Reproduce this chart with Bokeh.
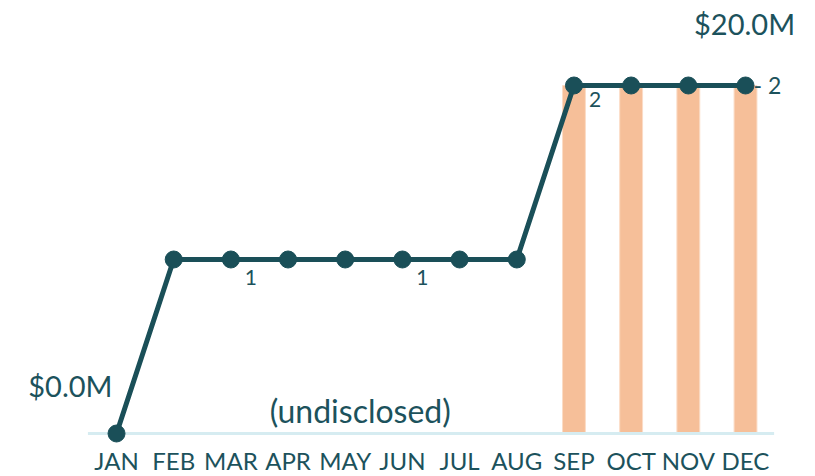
from bokeh.plotting import figure
from bokeh.models import Range1d, Label, ColumnDataSource, FixedTicker
from bokeh.embed import file_html
from bokeh.resources import INLINE
from bokeh.core.properties import value

# ---- data ----
months = ["JAN", "FEB", "MAR", "APR", "MAY", "JUN", "JUL", "AUG", "SEP", "OCT", "NOV", "DEC"]
deal_counts = [0, 1, 1, 1, 1, 1, 1, 1, 2, 2, 2, 2]
funding_musd = [0, 0, 0, 0, 0, 0, 0, 0, 20, 20, 20, 20]
quarter_months = ["MAR", "JUN"]
sep_month = "SEP"
final_month = "DEC"
money_min_label = "$0.0M"
money_max_label = "$20.0M"
undisclosed_label = "(undisclosed)"

TEXT = "#1c525c"
LINE = "#1a4f58"
BAR = "#f6bf99"
BASE = "#d6ecf1"
FONT = "Lato"

n = len(months)
xs = [i + 0.5 for i in range(n)]
x_lo, x_hi = -1.529, n + 0.724
count_lo, count_hi = -0.0575, 2.4885
ratio = max(funding_musd) / max(deal_counts)

p = figure(frame_width=815, frame_height=443, x_range=Range1d(x_lo, x_hi),
           y_range=Range1d(count_lo, count_hi), output_backend="svg", toolbar_location=None,
           min_border_left=0, min_border_right=0, min_border_top=0, min_border_bottom=33)
p.extra_y_ranges = {"money": Range1d(count_lo * ratio, count_hi * ratio)}
p.outline_line_color = None
p.grid.visible = False
p.yaxis.visible = False
p.background_fill_color = "white"
p.border_fill_color = "white"

xa = p.xaxis[0]
xa.ticker = FixedTicker(ticks=xs)
xa.major_label_overrides = {x: m for x, m in zip(xs, months)}
xa.axis_line_color = None
xa.major_tick_line_color = None
xa.minor_tick_line_color = None
xa.major_label_text_font = FONT
xa.major_label_text_font_size = "24px"
xa.major_label_text_color = TEXT
xa.major_label_standoff = -4

src = ColumnDataSource(dict(x=xs, month=months, count=deal_counts, money=funding_musd))

p.vbar(x="x", top="money", bottom=0, width=0.4, source=src, y_range_name="money",
       fill_color=BAR, line_color="#fbdcc6", line_width=1)

# baseline across all month slots
p.segment(x0=[0], y0=[0], x1=[n], y1=[0], line_color=BASE, line_width=3)

p.line(x="x", y="count", source=src, line_color=LINE, line_width=5)
p.scatter(x="x", y="count", source=src, size=17, fill_color=LINE, line_color=LINE)

def lbl_src(ms):
    idx = [months.index(m) for m in ms]
    return ColumnDataSource(dict(x=[xs[i] for i in idx], count=[deal_counts[i] for i in idx],
                                 txt=[str(deal_counts[i]) for i in idx]))

p.text(x="x", y="count", text="txt", source=lbl_src(quarter_months), x_offset=20, y_offset=18,
       text_align="center", text_baseline="middle", text_font=value(FONT),
       text_font_size="21px", text_color=TEXT)
p.text(x="x", y="count", text="txt", source=lbl_src([sep_month]), x_offset=21, y_offset=14,
       text_align="center", text_baseline="middle", text_font=value(FONT),
       text_font_size="21px", text_color=TEXT)

fi = months.index(final_month)
p.add_layout(Label(x=xs[fi], y=deal_counts[fi], text="- " + str(deal_counts[fi]),
                   x_offset=8, text_align="left", text_baseline="middle",
                   text_font=FONT, text_font_size="23px", text_color=TEXT))

p.add_layout(Label(x=n, y=max(funding_musd), y_range_name="money",
                   text=money_max_label, x_offset=21, y_offset=62,
                   text_align="right", text_baseline="middle",
                   text_font=FONT, text_font_size="29px", text_color=TEXT))
p.add_layout(Label(x=xs[0], y=0, text=money_min_label, x_offset=-4, y_offset=48,
                   text_align="right", text_baseline="middle",
                   text_font=FONT, text_font_size="29px", text_color=TEXT))

undisclosed_idx = [i for i in range(n) if funding_musd[i] == 0 and deal_counts[i] > 0]
ux = sum(xs[i] for i in undisclosed_idx) / len(undisclosed_idx)
p.add_layout(Label(x=ux, y=0, text=undisclosed_label, x_offset=15, y_offset=23,
                   text_align="center", text_baseline="middle",
                   text_font=FONT, text_font_size="32px", text_color=TEXT))

open("out.html", "w").write(file_html(p, INLINE))
